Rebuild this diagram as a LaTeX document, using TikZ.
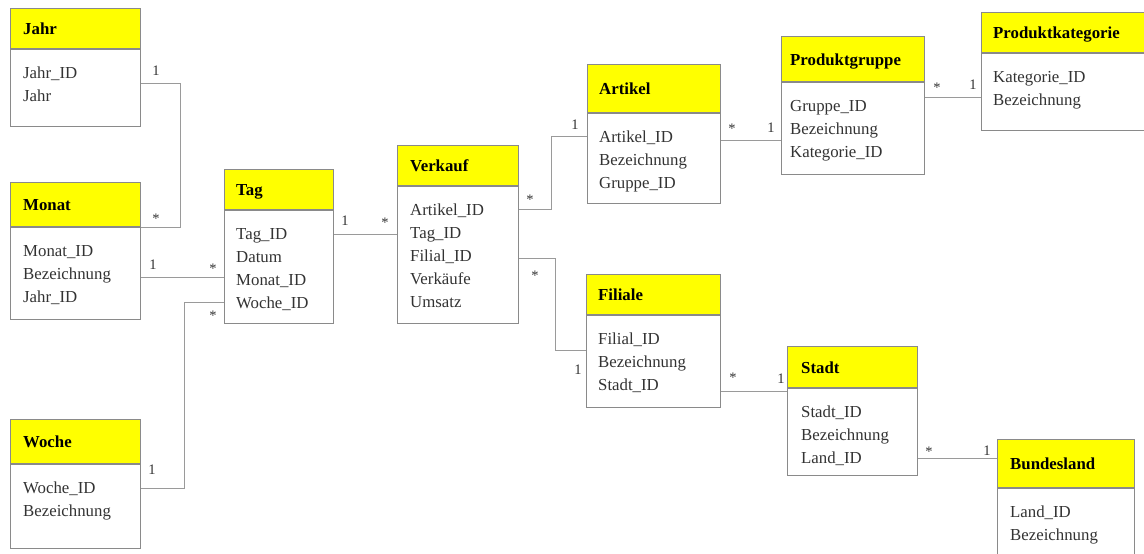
\documentclass[tikz,border=0pt]{standalone}
\usepackage{fontspec}
\setmainfont{Liberation Serif}
\usetikzlibrary{calc}
\definecolor{hdryellow}{HTML}{FFFF00}
\definecolor{boxgray}{HTML}{8A8A8A}
\definecolor{linegray}{HTML}{9A9A9A}
\definecolor{txtgray}{HTML}{333333}
\tikzset{
  hdr/.style={draw=boxgray, fill=hdryellow, line width=1pt, inner sep=0pt, anchor=north west},
  bodybox/.style={draw=boxgray, fill=white, line width=1pt, inner sep=0pt, anchor=north west},
  ttl/.style={font=\fontsize{16.8}{19}\selectfont\bfseries, text=black, inner sep=0pt, anchor=base west},
  attr/.style={font=\fontsize{16.8}{19}\selectfont, text=txtgray, inner sep=0pt, anchor=base west},
  card/.style={font=\fontsize{14.5}{16}\selectfont, text=txtgray, inner sep=0pt},
  conn/.style={draw=linegray, line width=1pt}
}
% name, x, ytop, width, header height, body height, title, lines, text offset
\newcommand\entbox[9]{%
  \node[hdr, minimum width=#4pt, minimum height=#5pt] (#1-h) at (#2,#3) {};
  \node[bodybox, minimum width=#4pt, minimum height=#6pt] (#1) at (#1-h.south west) {};
  \node[ttl] (#1-t) at ($(#1-h.west)+(#9,6)$) {#7};
  \foreach \t [count=\i] in {#8} {
    \node[attr] (#1-a\i) at ($(#1.north west)+(#9,{29.5+(\i-1)*23})$) {\t};
  }%
}
\begin{document}
\begin{tikzpicture}[x=1pt,y=-1pt]
\useasboundingbox (0,0) rectangle (1144,554);
\fill[white] (0,0) rectangle (1144,554);

\entbox{jahr}{10}{8}{130}{40}{77}{Jahr}{Jahr\_ID,Jahr}{13}
\entbox{monat}{10}{182}{130}{44}{92}{Monat}{Monat\_ID,Bezeichnung,Jahr\_ID}{13}
\entbox{woche}{10}{419}{130}{44}{84}{Woche}{Woche\_ID,Bezeichnung}{13}
\entbox{tag}{224}{169}{109}{40}{113}{Tag}{Tag\_ID,Datum,Monat\_ID,Woche\_ID}{12}
\entbox{verkauf}{397}{145}{121}{40}{137}{Verkauf}{Artikel\_ID,Tag\_ID,Filial\_ID,Verkäufe,Umsatz}{13}
\entbox{artikel}{587}{64}{133}{48}{90}{Artikel}{Artikel\_ID,Bezeichnung,Gruppe\_ID}{12}
\entbox{gruppe}{781}{36}{143}{45}{92}{Produktgruppe}{Gruppe\_ID,Bezeichnung,Kategorie\_ID}{9}
\entbox{kat}{981}{12}{170}{40}{77}{Produktkategorie}{Kategorie\_ID,Bezeichnung}{12}
\entbox{filiale}{586}{274}{134}{40}{92}{Filiale}{Filial\_ID,Bezeichnung,Stadt\_ID}{12}
\entbox{stadt}{787}{346}{130}{41}{87}{Stadt}{Stadt\_ID,Bezeichnung,Land\_ID}{14}
\entbox{land}{997}{439}{137}{48}{90}{Bundesland}{Land\_ID,Bezeichnung}{13}

% connectors
\coordinate (jm) at (180,83);
\draw[conn] (jahr.east |- jm) -- (jm) |- (monat-h.south east);
\coordinate (mt) at (0,277);
\draw[conn] (monat.east |- mt) -- (tag.west |- mt);
\coordinate (wt1) at (184,488);
\coordinate (wt2) at (184,302);
\draw[conn] (woche.east |- wt1) -- (wt1) -- (wt2) -- (tag.west |- wt2);
\coordinate (tv) at (0,234);
\draw[conn] (tag.east |- tv) -- (verkauf.west |- tv);
\coordinate (va1) at (551,209);
\coordinate (va2) at (551,136);
\draw[conn] (verkauf.east |- va1) -- (va1) -- (va2) -- (artikel.west |- va2);
\coordinate (vf1) at (555,258);
\coordinate (vf2) at (555,350);
\draw[conn] (verkauf.east |- vf1) -- (vf1) -- (vf2) -- (filiale.west |- vf2);
\coordinate (ag) at (0,140);
\draw[conn] (artikel.east |- ag) -- (gruppe.west |- ag);
\coordinate (gk) at (0,97);
\draw[conn] (gruppe.east |- gk) -- (kat.west |- gk);
\coordinate (fs) at (0,391);
\draw[conn] (filiale.east |- fs) -- (stadt.west |- fs);
\coordinate (sl) at (0,458);
\draw[conn] (stadt.east |- sl) -- (land-h.west |- sl);

% cardinalities
\node[card] (c1) at (156,71) {1};
\node[card] (c2) at (156,219) {*};
\node[card] (c3) at (153,265) {1};
\node[card] (c4) at (213,269) {*};
\node[card] (c5) at (152,470) {1};
\node[card] (c6) at (213,316) {*};
\node[card] (c7) at (345,221) {1};
\node[card] (c8) at (385,223) {*};
\node[card] (c9) at (530,200) {*};
\node[card] (c10) at (575,125) {1};
\node[card] (c11) at (535,276) {*};
\node[card] (c12) at (578,370) {1};
\node[card] (c13) at (732,129) {*};
\node[card] (c14) at (771,128) {1};
\node[card] (c15) at (937,88) {*};
\node[card] (c16) at (973,85) {1};
\node[card] (c17) at (733,378) {*};
\node[card] (c18) at (781,379) {1};
\node[card] (c19) at (929,452) {*};
\node[card] (c20) at (987,451) {1};
\end{tikzpicture}
\end{document}
